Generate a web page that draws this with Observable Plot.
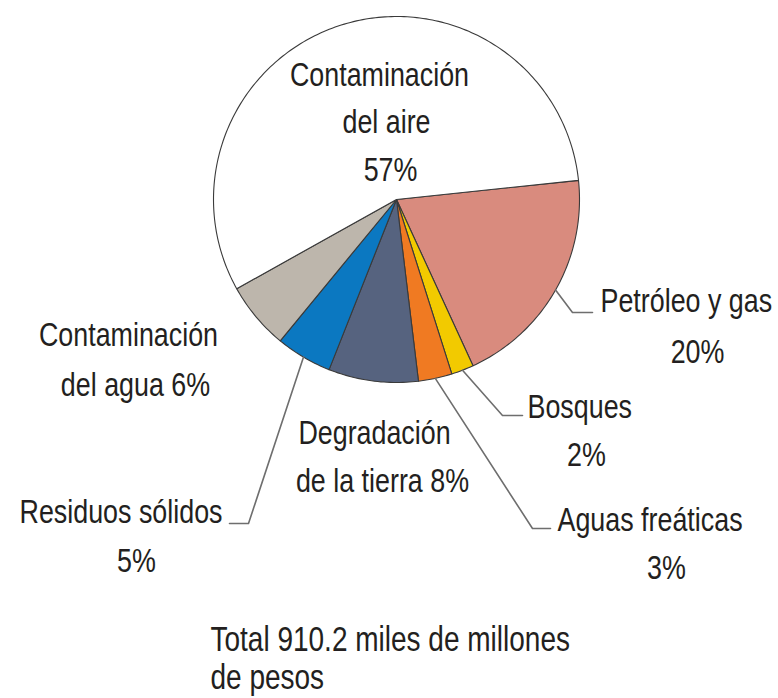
<!DOCTYPE html>
<html>
<head>
<meta charset="utf-8">
<script src="https://cdn.jsdelivr.net/npm/d3@7"></script>
<script src="https://cdn.jsdelivr.net/npm/@observablehq/plot@0.6"></script>
<style>
  html, body { margin: 0; padding: 0; background: #fff; }
  #chart svg { display: block; }
</style>
</head>
<body>
<div id="chart"></div>
<script>
// ---- Data ----
const categories = ["Contaminación del aire", "Petróleo y gas", "Bosques", "Aguas freáticas",
  "Degradación de la tierra", "Residuos sólidos", "Contaminación del agua"];
const values = [57, 20, 2, 3, 8, 5, 6];
const percentLabels = ["57%", "20%", "2%", "3%", "8%", "5%", "6%"];
const captionLines = ["Total 910.2 miles de millones", "de pesos"];

// ---- Styles ----
const sliceColors = ["#ffffff", "#d98b7e", "#f2ca00", "#f07a22", "#56637f", "#0b78c1", "#bdb6ac"];
const FONT = "'Liberation Sans', Arial, sans-serif";
const FONT_SIZE = 34;
const CAPTION_SIZE = 35;
const CONDENSE = 0.79;        // horizontal squeeze to imitate a condensed face
const CAPTION_CONDENSE = 0.80;
const W = 778, H = 698;

// ---- Layout (in the chart's coordinate frame) ----
const center = {x: 396, y: 199}, R = 183;
const startAngleDeg = 84; // Petróleo begins here (clockwise from 12 o'clock)

// Label lines: [category index, text, x, y, anchor]
const labelLines = [
  [0, "Contaminación", 379, 75, "middle"],
  [0, "del aire", 386, 122, "middle"],
  [0, percentLabels[0], 390, 170, "middle"],
  [1, "Petróleo y gas", 600, 301, "start"],
  [1, percentLabels[1], 697, 352, "middle"],
  [2, "Bosques", 527, 407, "start"],
  [2, percentLabels[2], 586, 455, "middle"],
  [3, "Aguas freáticas", 557, 520, "start"],
  [3, percentLabels[3], 666, 568, "middle"],
  [4, "Degradación", 374, 433, "middle"],
  [4, "de la tierra " + percentLabels[4], 382, 481, "middle"],
  [5, "Residuos sólidos", 222, 512, "end"],
  [5, percentLabels[5], 136, 561, "middle"],
  [6, "Contaminación", 128, 335, "middle"],
  [6, "del agua " + percentLabels[6], 135, 385, "middle"]
];
// Leader lines: [category index, elbow x, elbow y, end x]
const leaders = [
  [1, 572, 312, 592],
  [2, 502, 415, 522],
  [3, 532, 528, 550],
  [5, 248, 523, 229]
];

// ---- Build slices with d3.pie (order: Petróleo ... agua, then aire) ----
const order = [1, 2, 3, 4, 5, 6, 0];
const rad = Math.PI / 180;
const pie = d3.pie().sort(null).value(i => values[i])
  .startAngle(startAngleDeg * rad).endAngle((startAngleDeg + 360) * rad);
const arcs = pie(order);
const toXY = (a, r) => ({x: center.x + r * Math.sin(a), y: center.y - r * Math.cos(a)});

const polyPoints = [];
const midAngle = {};
arcs.forEach(a => {
  const i = a.data;
  midAngle[i] = (a.startAngle + a.endAngle) / 2;
  polyPoints.push({k: i, ...center});
  const n = Math.max(2, Math.ceil((a.endAngle - a.startAngle) / rad));
  for (let j = 0; j <= n; j++) {
    const ang = a.startAngle + (a.endAngle - a.startAngle) * j / n;
    polyPoints.push({k: i, ...toXY(ang, R)});
  }
});

const leaderPoints = [];
leaders.forEach(([i, ex, ey, endX]) => {
  const p = toXY(midAngle[i], R);
  leaderPoints.push({k: i, x: p.x, y: p.y});
  leaderPoints.push({k: i, x: ex, y: ey});
  leaderPoints.push({k: i, x: endX, y: ey});
});

const textRows = labelLines.map(([k, text, x, y, anchor]) => ({k, text, x, y, anchor}));
const captionRows = captionLines.map((text, j) => ({text, x: 210, y: 639 + j * 38}));

const chart = Plot.plot({
  width: W, height: H,
  margin: 0,
  x: {domain: [0, W], axis: null},
  y: {domain: [0, H], reverse: true, axis: null},
  color: {type: "identity"},
  style: {fontFamily: FONT, background: "#fff"},
  marks: [
    Plot.line(polyPoints, {
      x: "x", y: "y", z: "k",
      fill: d => sliceColors[d.k],
      stroke: "#3a3a3a", strokeWidth: 1.1,
      curve: "linear-closed"
    }),
    Plot.line(leaderPoints, {
      x: "x", y: "y", z: "k",
      stroke: "#6e6e6e", strokeWidth: 1.6
    }),
    ...["start", "middle", "end"].map(anchor =>
      Plot.text(textRows.filter(d => d.anchor === anchor), {
        x: "x", y: "y", text: "text",
        textAnchor: anchor, lineAnchor: "middle",
        fontSize: FONT_SIZE, fill: "#231f20"
      })
    ),
    Plot.text(captionRows, {
      x: "x", y: "y", text: "text",
      textAnchor: "start", lineAnchor: "middle",
      fontSize: CAPTION_SIZE, fill: "#231f20"
    })
  ]
});
// Condense the text horizontally around each text's anchor point
chart.querySelectorAll("text").forEach(t => {
  const tr = t.getAttribute("transform");
  const s = captionLines.includes(t.textContent) ? CAPTION_CONDENSE : CONDENSE;
  if (tr) t.setAttribute("transform", tr + ` scale(${s},1)`);
});
document.getElementById("chart").appendChild(chart);
</script>
</body>
</html>
